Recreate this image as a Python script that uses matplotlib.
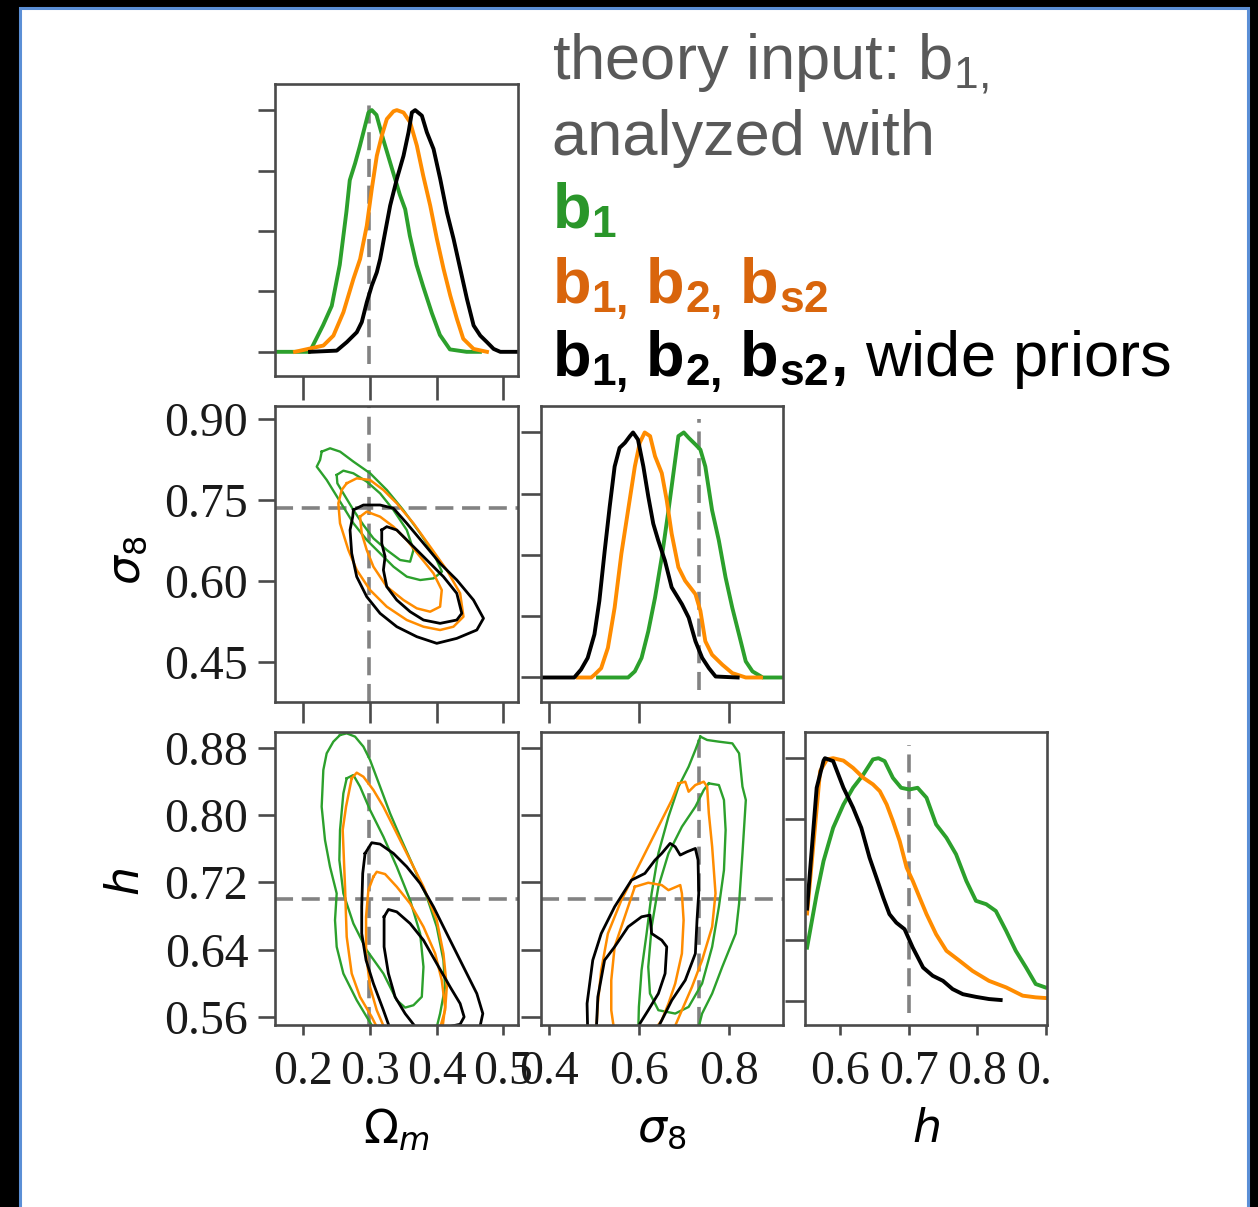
import matplotlib
matplotlib.use("Agg")
import matplotlib.pyplot as plt
from matplotlib.patches import Rectangle

# ------------------------------------------------------------------ data
truth_om = 0.299
truth_s8 = 0.735
truth_h = 0.700

om_ticks = [0.2, 0.3, 0.4, 0.5]
om_ticklabels = ["0.2", "0.3", "0.4", "0.5"]
s8_ticks = [0.45, 0.60, 0.75, 0.90]
s8_ticklabels = ["0.45", "0.60", "0.75", "0.90"]
s8_xticks = [0.4, 0.6, 0.8]
s8_xticklabels = ["0.4", "0.6", "0.8"]
h_ticks = [0.56, 0.64, 0.72, 0.80, 0.88]
h_ticklabels = ["0.56", "0.64", "0.72", "0.80", "0.88"]
h_xticks = [0.6, 0.7, 0.8, 0.9]
h_xticklabels = ["0.6", "0.7", "0.8", "0.9"]
pdf_ticks = [0, 0.25, 0.5, 0.75, 1.0]

# 1D marginal of Omega_m (normalised to peak = 1)
om_x_green = [0.160, 0.210, 0.230, 0.243, 0.255, 0.265, 0.270, 0.278, 0.285, 0.298, 0.303, 0.310,
              0.320, 0.333, 0.345, 0.353, 0.360, 0.370, 0.380, 0.393, 0.405, 0.420, 0.445, 0.465]
om_p_green = [0, 0, 0.11, 0.19, 0.36, 0.58, 0.71, 0.78, 0.85, 0.99, 1.0, 0.98,
              0.88, 0.76, 0.65, 0.59, 0.48, 0.36, 0.27, 0.16, 0.07, 0.01, 0, 0]
om_x_orange = [0.188, 0.2305, 0.2455, 0.2605, 0.2755, 0.2855, 0.2955, 0.303, 0.3105, 0.318, 0.3255,
               0.3355, 0.3405, 0.3505, 0.3605, 0.3705, 0.380, 0.3905, 0.4005, 0.4105, 0.4205,
               0.4305, 0.440, 0.4555, 0.4755]
om_p_orange = [0, 0.026, 0.067, 0.164, 0.302, 0.384, 0.522, 0.674, 0.811, 0.894, 0.963,
               0.995, 1.0, 0.99, 0.949, 0.853, 0.729, 0.605, 0.467, 0.343, 0.233,
               0.136, 0.054, 0.012, 0]
om_x_black = [0.2105, 0.2505, 0.2655, 0.2805, 0.288, 0.2955, 0.303, 0.3105, 0.3155, 0.323, 0.3305,
              0.3405, 0.3505, 0.358, 0.363, 0.368, 0.378, 0.3855, 0.3955, 0.4055, 0.4155, 0.4255,
              0.4355, 0.4455, 0.4555, 0.4655, 0.4755, 0.4855, 0.4955, 0.520]
om_p_black = [0, 0.005, 0.04, 0.081, 0.123, 0.205, 0.274, 0.329, 0.384, 0.495, 0.605,
              0.715, 0.811, 0.908, 0.99, 1.0, 0.977, 0.908, 0.839, 0.715, 0.577, 0.467,
              0.343, 0.219, 0.109, 0.067, 0.04, 0.012, 0, 0]

# 1D marginal of sigma_8
s8_x_black = [0.385, 0.456, 0.471, 0.486, 0.501, 0.512, 0.524, 0.535, 0.546, 0.557, 0.569, 0.580,
              0.587, 0.598, 0.610, 0.621, 0.632, 0.643, 0.658, 0.673, 0.696, 0.711, 0.726, 0.741,
              0.756, 0.771, 0.820]
s8_p_black = [0, 0, 0.032, 0.08, 0.176, 0.313, 0.519, 0.697, 0.861, 0.937, 0.958, 0.985,
              1.0, 0.971, 0.861, 0.738, 0.628, 0.560, 0.477, 0.368, 0.299, 0.244, 0.148, 0.080,
              0.038, 0.004, 0]
s8_x_orange = [0.464, 0.494, 0.501, 0.516, 0.531, 0.546, 0.561, 0.576, 0.591, 0.602, 0.613, 0.625,
               0.636, 0.651, 0.662, 0.673, 0.688, 0.703, 0.726, 0.737, 0.748, 0.763, 0.786, 0.808,
               0.838, 0.872]
s8_p_orange = [0, 0, 0.011, 0.038, 0.121, 0.285, 0.505, 0.683, 0.861, 0.958, 1.0, 0.985,
               0.903, 0.834, 0.724, 0.587, 0.450, 0.395, 0.340, 0.272, 0.148, 0.093, 0.052, 0.018,
               0, 0]
s8_x_green = [0.509, 0.576, 0.591, 0.606, 0.621, 0.636, 0.651, 0.666, 0.677, 0.688, 0.700, 0.711,
              0.726, 0.737, 0.748, 0.763, 0.778, 0.793, 0.808, 0.823, 0.838, 0.853, 0.876, 0.921]
s8_p_green = [0, 0, 0.025, 0.080, 0.189, 0.326, 0.491, 0.683, 0.834, 0.985, 1.0, 0.978,
              0.951, 0.930, 0.861, 0.683, 0.560, 0.409, 0.285, 0.176, 0.066, 0.025, 0, 0]

# 1D marginal of h
h_x_black = [0.552, 0.566, 0.576, 0.578, 0.590, 0.605, 0.619, 0.631, 0.643, 0.653, 0.663, 0.672,
             0.682, 0.694, 0.706, 0.721, 0.735, 0.750, 0.764, 0.779, 0.798, 0.817, 0.834]
h_p_black = [0.38, 0.878, 0.99, 1.0, 0.988, 0.878, 0.796, 0.713, 0.590, 0.508, 0.425, 0.357,
             0.322, 0.295, 0.219, 0.137, 0.103, 0.082, 0.048, 0.027, 0.016, 0.007, 0.003]
h_x_orange = [0.552, 0.571, 0.581, 0.590, 0.605, 0.619, 0.634, 0.648, 0.658, 0.668, 0.677, 0.687,
              0.697, 0.706, 0.716, 0.726, 0.740, 0.755, 0.774, 0.793, 0.817, 0.842, 0.866, 0.885,
              0.900]
h_p_orange = [0.36, 0.947, 0.995, 1.0, 0.99, 0.96, 0.919, 0.892, 0.864, 0.809, 0.741, 0.658,
              0.549, 0.494, 0.425, 0.357, 0.274, 0.206, 0.165, 0.123, 0.082, 0.055, 0.021, 0.014,
              0.011]
h_x_green = [0.552, 0.566, 0.576, 0.590, 0.605, 0.619, 0.634, 0.648, 0.656, 0.665, 0.677, 0.689,
             0.701, 0.713, 0.726, 0.740, 0.755, 0.769, 0.784, 0.798, 0.813, 0.827, 0.842, 0.856,
             0.871, 0.885, 0.899]
h_p_green = [0.219, 0.439, 0.576, 0.713, 0.809, 0.878, 0.933, 0.995, 1.0, 0.988, 0.919, 0.878,
             0.871, 0.878, 0.837, 0.727, 0.672, 0.604, 0.494, 0.412, 0.398, 0.370, 0.288, 0.206,
             0.137, 0.069, 0.055]

# 2D credible contours, Omega_m vs sigma_8 (x = Omega_m, y = sigma_8)
oms8_green_out_x = [0.2280, 0.2405, 0.2555, 0.2755, 0.3005, 0.3255, 0.3500, 0.3755, 0.3955, 0.4080, 0.3955,
                    0.3755, 0.3555, 0.3355, 0.3155, 0.2955, 0.2755, 0.2555, 0.2355, 0.2205, 0.2255]
oms8_green_out_y = [0.8395, 0.8457, 0.8395, 0.8210, 0.7994, 0.7685, 0.7315, 0.6883, 0.6512, 0.6173, 0.6049,
                    0.6018, 0.6080, 0.6265, 0.6512, 0.6759, 0.7068, 0.7469, 0.7870, 0.8117, 0.8241]
oms8_green_in_x = [0.2504, 0.2604, 0.2754, 0.2954, 0.3154, 0.3354, 0.3554, 0.3654, 0.3604, 0.3454, 0.3254,
                   0.3054, 0.2904, 0.2754, 0.2604, 0.2514]
oms8_green_in_y = [0.7963, 0.8043, 0.7994, 0.7840, 0.7623, 0.7315, 0.6944, 0.6574, 0.6358, 0.6389, 0.6574,
                   0.6790, 0.7037, 0.7315, 0.7623, 0.7809]
oms8_orange_out_x = [0.2654, 0.2804, 0.3004, 0.3204, 0.3404, 0.3654, 0.3904, 0.4153, 0.4353, 0.4403, 0.4253,
                     0.4053, 0.3804, 0.3554, 0.3254, 0.3004, 0.2804, 0.2679, 0.2554, 0.2529, 0.2579]
oms8_orange_out_y = [0.7809, 0.7901, 0.7870, 0.7685, 0.7438, 0.7068, 0.6636, 0.6204, 0.5772, 0.5340, 0.5154,
                     0.5093, 0.5154, 0.5278, 0.5525, 0.5833, 0.6204, 0.6574, 0.7068, 0.7438, 0.7685]
oms8_orange_in_x = [0.2854, 0.2954, 0.3154, 0.3354, 0.3554, 0.3754, 0.3954, 0.4078, 0.4053, 0.3904, 0.3704,
                    0.3504, 0.3254, 0.3054, 0.2954, 0.2879]
oms8_orange_in_y = [0.7191, 0.7284, 0.7191, 0.7006, 0.6759, 0.6450, 0.6142, 0.5833, 0.5525, 0.5432, 0.5494,
                    0.5648, 0.5895, 0.6265, 0.6574, 0.6883]
oms8_black_out_x = [0.2754, 0.2904, 0.3154, 0.3354, 0.3554, 0.3804, 0.4053, 0.4303, 0.4553, 0.4703, 0.4603,
                    0.4303, 0.4003, 0.3704, 0.3404, 0.3154, 0.2954, 0.2804, 0.2729, 0.2704, 0.2744]
oms8_black_out_y = [0.7315, 0.7407, 0.7407, 0.7346, 0.7068, 0.6698, 0.6327, 0.6019, 0.5648, 0.5309, 0.5093,
                    0.4938, 0.4846, 0.4969, 0.5154, 0.5401, 0.5710, 0.6080, 0.6512, 0.6944, 0.7191]
oms8_black_in_x = [0.3179, 0.3254, 0.3404, 0.3604, 0.3854, 0.4103, 0.4303, 0.4378, 0.4303, 0.4053, 0.3804,
                   0.3604, 0.3404, 0.3254, 0.3204, 0.3229, 0.3179]
oms8_black_in_y = [0.6944, 0.7006, 0.6944, 0.6698, 0.6389, 0.6080, 0.5772, 0.5401, 0.5278, 0.5216, 0.5278,
                   0.5432, 0.5648, 0.5895, 0.6204, 0.6450, 0.6698]

# 2D credible contours, Omega_m vs h
omh_green_out_x = [0.2554, 0.2654, 0.2779, 0.2904, 0.3004, 0.3154, 0.3304, 0.3454, 0.3654, 0.3854, 0.4003,
                   0.4103, 0.4128, 0.4053, 0.3979, 0.3104, 0.2954, 0.2804, 0.2604, 0.2504, 0.2479, 0.2504,
                   0.2404, 0.2329, 0.2279, 0.2304, 0.2354, 0.2454]
omh_green_out_y = [0.8954, 0.8974, 0.8935, 0.8816, 0.8657, 0.8340, 0.8022, 0.7744, 0.7387, 0.7030, 0.6673,
                   0.6276, 0.5958, 0.5641, 0.5403, 0.5403, 0.5601, 0.5800, 0.6117, 0.6435, 0.6752, 0.7070,
                   0.7387, 0.7705, 0.8101, 0.8538, 0.8736, 0.8875]
omh_green_in_x = [0.2654, 0.2754, 0.2854, 0.3004, 0.3204, 0.3404, 0.3604, 0.3754, 0.3804, 0.3779, 0.3654,
                  0.3529, 0.3404, 0.3204, 0.2954, 0.2754, 0.2604, 0.2544, 0.2554, 0.2604]
omh_green_in_y = [0.8439, 0.8478, 0.8340, 0.8062, 0.7744, 0.7387, 0.6990, 0.6593, 0.6196, 0.5840, 0.5740,
                  0.5712, 0.5800, 0.6117, 0.6395, 0.6712, 0.7070, 0.7466, 0.7824, 0.8260]
omh_orange_out_x = [0.2729, 0.2804, 0.2904, 0.3054, 0.3204, 0.3404, 0.3604, 0.3804, 0.4003, 0.4103, 0.4153,
                    0.4128, 0.4028, 0.3154, 0.3029, 0.2854, 0.2729, 0.2654, 0.2629, 0.2594, 0.2644]
omh_orange_out_y = [0.8439, 0.8506, 0.8458, 0.8300, 0.8101, 0.7784, 0.7466, 0.7149, 0.6752, 0.6355, 0.5958,
                    0.5681, 0.5403, 0.5403, 0.5601, 0.5839, 0.6117, 0.6554, 0.7149, 0.7824, 0.8101]
omh_orange_in_x = [0.3054, 0.3104, 0.3229, 0.3404, 0.3604, 0.3804, 0.3979, 0.4078, 0.4128, 0.4078, 0.3254,
                   0.3104, 0.3004, 0.2944, 0.2944, 0.2979]
omh_orange_in_y = [0.7268, 0.7327, 0.7300, 0.7149, 0.6950, 0.6673, 0.6355, 0.6038, 0.5720, 0.5403, 0.5403,
                   0.5681, 0.5958, 0.6355, 0.6792, 0.7109]
omh_black_out_x = [0.2929, 0.3029, 0.3154, 0.3354, 0.3554, 0.3754, 0.3954, 0.4153, 0.4403, 0.4603, 0.4693,
                   0.4628, 0.3329, 0.3204, 0.3054, 0.2944, 0.2879, 0.2879, 0.2894]
omh_black_out_y = [0.7546, 0.7673, 0.7657, 0.7546, 0.7387, 0.7189, 0.6911, 0.6593, 0.6196, 0.5879, 0.5641,
                   0.5403, 0.5403, 0.5681, 0.5998, 0.6276, 0.6593, 0.6911, 0.7308]
omh_black_in_x = [0.3214, 0.3279, 0.3404, 0.3604, 0.3804, 0.4003, 0.4203, 0.4353, 0.4413, 0.4353, 0.4053,
                  0.3704, 0.3529, 0.3379, 0.3279, 0.3214]
omh_black_in_y = [0.6792, 0.6879, 0.6851, 0.6712, 0.6514, 0.6236, 0.5958, 0.5760, 0.5601, 0.5514, 0.5462,
                  0.5462, 0.5641, 0.5839, 0.6117, 0.6435]

# 2D credible contours, sigma_8 vs h
s8h_green_out_x = [0.7370, 0.7520, 0.7782, 0.8082, 0.8232, 0.8307, 0.8382, 0.8307, 0.8232, 0.8157, 0.7857,
                   0.7632, 0.7408, 0.7295, 0.5985, 0.6000, 0.6060, 0.6172, 0.6284, 0.6434, 0.6659, 0.6883,
                   0.7108, 0.7258]
s8h_green_out_y = [0.8935, 0.8895, 0.8875, 0.8855, 0.8736, 0.8340, 0.8181, 0.7546, 0.6950, 0.6593, 0.6196,
                   0.5879, 0.5641, 0.5403, 0.5403, 0.5720, 0.6157, 0.6593, 0.7070, 0.7546, 0.7982, 0.8340,
                   0.8577, 0.8776]
s8h_green_in_x = [0.7558, 0.7782, 0.7895, 0.7932, 0.7895, 0.7782, 0.7632, 0.7408, 0.7108, 0.6809, 0.6434,
                  0.6247, 0.6209, 0.6284, 0.6434, 0.6659, 0.6958, 0.7258, 0.7445]
s8h_green_in_y = [0.8379, 0.8359, 0.8181, 0.7824, 0.7347, 0.6911, 0.6435, 0.5998, 0.5720, 0.5641, 0.5681,
                  0.5879, 0.6196, 0.6673, 0.7149, 0.7546, 0.7863, 0.8101, 0.8300]
s8h_orange_out_x = [0.6883, 0.7033, 0.7108, 0.7258, 0.7445, 0.7520, 0.7558, 0.7632, 0.7707, 0.7632, 0.7408,
                    0.7183, 0.6958, 0.6734, 0.5048, 0.5086, 0.5161, 0.5310, 0.5610, 0.5910, 0.6209, 0.6509,
                    0.6734]
s8h_orange_out_y = [0.8379, 0.8399, 0.8280, 0.8359, 0.8399, 0.8340, 0.8022, 0.7625, 0.7070, 0.6673, 0.6276,
                    0.5958, 0.5681, 0.5403, 0.5403, 0.5760, 0.6157, 0.6593, 0.6990, 0.7308, 0.7625, 0.7943,
                    0.8181]
s8h_orange_in_x = [0.5910, 0.6209, 0.6509, 0.6659, 0.6921, 0.6958, 0.6996, 0.6958, 0.6809, 0.6659, 0.6509,
                   0.6284, 0.5460, 0.5385, 0.5385, 0.5460, 0.5685]
s8h_orange_in_y = [0.7149, 0.7197, 0.7169, 0.7109, 0.7169, 0.7070, 0.6752, 0.6355, 0.5998, 0.5760, 0.5561,
                   0.5403, 0.5403, 0.5681, 0.6038, 0.6435, 0.6792]
s8h_black_out_x = [0.4861, 0.4846, 0.4973, 0.5161, 0.5460, 0.5835, 0.6134, 0.6359, 0.6509, 0.6696, 0.6809,
                   0.6921, 0.7071, 0.7258, 0.7318, 0.7333, 0.7295, 0.7258, 0.7033, 0.6734, 0.6509, 0.6359]
s8h_black_out_y = [0.5403, 0.5760, 0.6276, 0.6593, 0.6911, 0.7228, 0.7308, 0.7466, 0.7546, 0.7665, 0.7625,
                   0.7526, 0.7565, 0.7605, 0.7466, 0.7070, 0.6752, 0.6355, 0.6038, 0.5800, 0.5561, 0.5403]
s8h_black_in_x = [0.5048, 0.5086, 0.5236, 0.5460, 0.5760, 0.6060, 0.6247, 0.6284, 0.6509, 0.6621, 0.6584,
                  0.6434, 0.6209, 0.6022, 0.5985]
s8h_black_in_y = [0.5403, 0.5839, 0.6276, 0.6435, 0.6673, 0.6792, 0.6812, 0.6593, 0.6514, 0.6435, 0.6117,
                  0.5879, 0.5681, 0.5522, 0.5403]

legend_lines = [r"theory input: $\mathrm{b}_{1,}$",
                "analyzed with",
                r"$\mathbf{b}_{\mathbf{1}}$",
                r"$\mathbf{b}_{\mathbf{1,}}\,\mathbf{b}_{\mathbf{2,}}\,\mathbf{b}_{\mathbf{s2}}$",
                r"$\mathbf{b}_{\mathbf{1,}}\,\mathbf{b}_{\mathbf{2,}}\,\mathbf{b}_{\mathbf{s2}}\mathbf{,}$ wide priors"]

# ------------------------------------------------------------------ style
GREEN = "#2ca02c"
ORANGE = "#ff8c00"
BLACK = "#000000"
GREEN_TXT = "#2a962a"
ORANGE_TXT = "#d9650c"
GRAY_TXT = "#595959"
legend_colors = [GRAY_TXT, GRAY_TXT, GREEN_TXT, ORANGE_TXT, BLACK]

plt.rcParams["font.family"] = ["Liberation Serif", "DejaVu Serif"]
plt.rcParams["mathtext.fontset"] = "custom"
plt.rcParams["mathtext.rm"] = "Liberation Sans"
plt.rcParams["mathtext.bf"] = "Liberation Sans:bold"
plt.rcParams["mathtext.it"] = "Liberation Sans:italic"

W, H = 1258, 1207
fig = plt.figure(figsize=(W / 100, H / 100), dpi=100, facecolor="black")
fig.add_artist(Rectangle((19.5 / W, -0.01), (1247.5 - 19.5) / W, 1.01 - 8 / H,
                         transform=fig.transFigure, facecolor="white",
                         edgecolor="#5b8fd6", linewidth=2.2, zorder=-10))

cols = [(275, 243), (541, 242), (805, 242)]
rows = [(84, 376), (406, 702), (732, 1025)]


def add_ax(r, c):
    x0, w = cols[c]
    top, bot = rows[r]
    return fig.add_axes([x0 / W, 1 - bot / H, w / W, (bot - top) / H])


SPINE = "#4a4a4a"
TICKFS = 34.5


def style(ax, xlen, ylen, xlab, ylab):
    for sp in ax.spines.values():
        sp.set_color(SPINE)
        sp.set_linewidth(1.9)
    ax.tick_params(direction="out", color=SPINE, width=1.9, labelsize=TICKFS,
                   labelcolor="#1a1a1a", top=False, right=False)
    ax.tick_params(axis="x", length=xlen, pad=11, labelbottom=xlab)
    ax.tick_params(axis="y", length=ylen, pad=7, labelleft=ylab)


DASH = dict(color="#828282", lw=2.6, ls=(0, (5.0, 2.4)), zorder=1)
LW1 = 2.8
LWG, LWO, LWB = 1.7, 1.8, 2.0

om_lim = (0.158, 0.522)
s8_xlim = (0.382, 0.921)
h_xlim = (0.549, 0.9015)
s8_ylim = (0.376, 0.924)
h_ylim = (0.5505, 0.899)
p_lim = (-0.1, 1.108)

# --- top-left: Omega_m marginal
ax = add_ax(0, 0)
ax.axvline(truth_om, ymin=0.04, ymax=0.955, **DASH)
ax.plot(om_x_green, om_p_green, color=GREEN, lw=LW1)
ax.plot(om_x_orange, om_p_orange, color=ORANGE, lw=LW1)
ax.plot(om_x_black, om_p_black, color=BLACK, lw=LW1)
ax.set_xlim(*om_lim); ax.set_ylim(*p_lim)
ax.set_xticks(om_ticks); ax.set_yticks(pdf_ticks)
style(ax, 17.3, 12.2, False, False)

# --- middle-left: Omega_m vs sigma_8
ax = add_ax(1, 0)
ax.axvline(truth_om, **DASH); ax.axhline(truth_s8, **DASH)
for xs, ys, col, lw in [(oms8_green_out_x, oms8_green_out_y, GREEN, LWG),
                        (oms8_green_in_x, oms8_green_in_y, GREEN, LWG),
                        (oms8_orange_out_x, oms8_orange_out_y, ORANGE, LWO),
                        (oms8_orange_in_x, oms8_orange_in_y, ORANGE, LWO),
                        (oms8_black_out_x, oms8_black_out_y, BLACK, LWB),
                        (oms8_black_in_x, oms8_black_in_y, BLACK, LWB)]:
    ax.plot(xs + xs[:1], ys + ys[:1], color=col, lw=lw)
ax.set_xlim(*om_lim); ax.set_ylim(*s8_ylim)
ax.set_xticks(om_ticks); ax.set_yticks(s8_ticks); ax.set_yticklabels(s8_ticklabels)
style(ax, 15, 12.2, False, True)
ax.set_ylabel(r"$\sigma_8$", fontsize=33, math_fontfamily="dejavusans", va="center")
ax.yaxis.set_label_coords(-0.605, 0.48)

# --- middle: sigma_8 marginal
ax = add_ax(1, 1)
ax.axvline(truth_s8, ymin=0.04, ymax=0.955, **DASH)
ax.plot(s8_x_green, s8_p_green, color=GREEN, lw=LW1)
ax.plot(s8_x_orange, s8_p_orange, color=ORANGE, lw=LW1)
ax.plot(s8_x_black, s8_p_black, color=BLACK, lw=LW1)
ax.set_xlim(*s8_xlim); ax.set_ylim(*p_lim)
ax.set_xticks(s8_xticks); ax.set_yticks(pdf_ticks)
style(ax, 15, 14.4, False, False)

# --- bottom-left: Omega_m vs h
ax = add_ax(2, 0)
ax.axvline(truth_om, **DASH); ax.axhline(truth_h, **DASH)
for xs, ys, col, lw in [(omh_green_out_x, omh_green_out_y, GREEN, LWG),
                        (omh_green_in_x, omh_green_in_y, GREEN, LWG),
                        (omh_orange_out_x, omh_orange_out_y, ORANGE, LWO),
                        (omh_orange_in_x, omh_orange_in_y, ORANGE, LWO),
                        (omh_black_out_x, omh_black_out_y, BLACK, LWB),
                        (omh_black_in_x, omh_black_in_y, BLACK, LWB)]:
    ax.plot(xs + xs[:1], ys + ys[:1], color=col, lw=lw)
ax.set_xlim(*om_lim); ax.set_ylim(*h_ylim)
ax.set_xticks(om_ticks); ax.set_xticklabels(om_ticklabels)
ax.set_yticks(h_ticks); ax.set_yticklabels(h_ticklabels)
style(ax, 7.2, 12.2, True, True)
ax.set_ylabel(r"$h$", fontsize=33, math_fontfamily="dejavusans", va="center")
ax.yaxis.set_label_coords(-0.605, 0.488)
ax.set_xlabel(r"$\Omega_m$", fontsize=33, math_fontfamily="dejavusans", va="center")
ax.xaxis.set_label_coords(0.5, -0.36)

# --- bottom-middle: sigma_8 vs h
ax = add_ax(2, 1)
ax.axvline(truth_s8, **DASH); ax.axhline(truth_h, **DASH)
for xs, ys, col, lw in [(s8h_green_out_x, s8h_green_out_y, GREEN, LWG),
                        (s8h_green_in_x, s8h_green_in_y, GREEN, LWG),
                        (s8h_orange_out_x, s8h_orange_out_y, ORANGE, LWO),
                        (s8h_orange_in_x, s8h_orange_in_y, ORANGE, LWO),
                        (s8h_black_out_x, s8h_black_out_y, BLACK, LWB),
                        (s8h_black_in_x, s8h_black_in_y, BLACK, LWB)]:
    ax.plot(xs + xs[:1], ys + ys[:1], color=col, lw=lw)
ax.set_xlim(*s8_xlim); ax.set_ylim(*h_ylim)
ax.set_xticks(s8_xticks); ax.set_xticklabels(s8_xticklabels)
ax.set_yticks(h_ticks)
style(ax, 7.2, 14.4, True, False)
ax.set_xlabel(r"$\sigma_8$", fontsize=33, math_fontfamily="dejavusans", va="center")
ax.xaxis.set_label_coords(0.5, -0.36)

# --- bottom-right: h marginal
ax = add_ax(2, 2)
ax.axvline(truth_h, ymin=0.04, ymax=0.955, **DASH)
ax.plot(h_x_green, h_p_green, color=GREEN, lw=LW1)
ax.plot(h_x_orange, h_p_orange, color=ORANGE, lw=LW1)
ax.plot(h_x_black, h_p_black, color=BLACK, lw=LW1)
ax.set_xlim(*h_xlim); ax.set_ylim(*p_lim)
ax.set_xticks(h_xticks); ax.set_xticklabels(h_xticklabels)
ax.set_yticks(pdf_ticks)
style(ax, 7.2, 14.4, True, False)
ax.set_xlabel(r"$h$", fontsize=33, math_fontfamily="dejavusans", va="center")
ax.xaxis.set_label_coords(0.5, -0.36)

# the source image was cropped just right of the last panel
fig.add_artist(Rectangle((1052 / W, 1 - 1105 / H), (1244 - 1052) / W, 70 / H,
                         transform=fig.transFigure, facecolor="white",
                         edgecolor="none", zorder=20))

# --- legend text block
baselines = [80, 155, 228, 303, 376]
for txt, col, yb in zip(legend_lines, legend_colors, baselines):
    fig.text(552 / W, 1 - yb / H, txt, color=col, fontsize=45.5,
             family="Liberation Sans", math_fontfamily="custom",
             ha="left", va="baseline")

fig.savefig("out.png", dpi=100, facecolor=fig.get_facecolor())
